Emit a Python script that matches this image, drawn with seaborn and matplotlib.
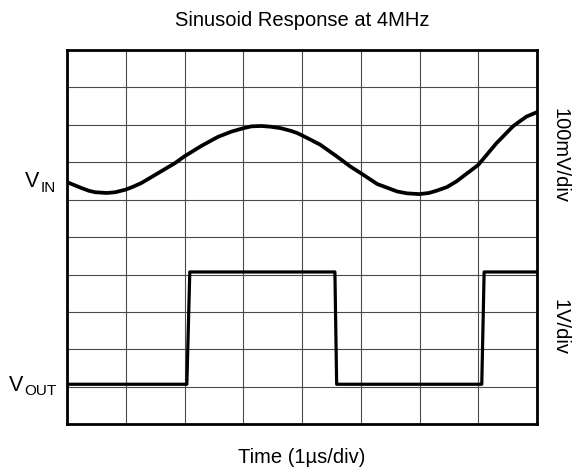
import matplotlib
matplotlib.use("Agg")
import matplotlib.pyplot as plt
import seaborn as sns
import pandas as pd

# sine input (x in divisions, y in divisions from bottom)
vin_t = [0.0, 0.25, 0.37, 0.48, 0.68, 0.82, 1.0, 1.13, 1.27, 1.55, 1.84, 2.0,
         2.29, 2.57, 2.80, 3.0, 3.14, 3.31, 3.47, 3.64, 3.81, 3.92, 4.0, 4.15,
         4.31, 4.59, 4.82, 5.0, 5.28, 5.62, 5.79, 6.0, 6.16, 6.29, 6.47, 6.63,
         7.0, 7.31, 7.59, 7.72, 7.82, 8.0]
vin_v = [6.47, 6.31, 6.24, 6.20, 6.18, 6.20, 6.27, 6.35, 6.45, 6.71, 6.98, 7.16,
         7.44, 7.68, 7.82, 7.91, 7.96, 7.97, 7.95, 7.91, 7.84, 7.78, 7.72, 7.60,
         7.47, 7.16, 6.89, 6.71, 6.42, 6.22, 6.17, 6.15, 6.18, 6.24, 6.34, 6.49,
         6.93, 7.51, 7.96, 8.11, 8.22, 8.34]

# square output
vout_t = [0.0, 2.04, 2.09, 4.56, 4.59, 7.06, 7.10, 8.0]
vout_v = [1.07, 1.07, 4.07, 4.07, 1.07, 1.07, 4.07, 4.07]

title = "Sinusoid Response at 4MHz"
xlabel = "Time (1\u00b5s/div)"

sns.set_theme(style="white")
plt.rcParams["font.family"] = ["Liberation Sans", "DejaVu Sans"]
plt.rcParams["text.color"] = "black"

W, H = 573, 474
fig = plt.figure(figsize=(W / 100, H / 100), dpi=100)
ax = fig.add_axes([67 / W, 1 - 424.3 / H, 470 / W, 374.3 / H])

df_in = pd.DataFrame({"t": vin_t, "v": vin_v})
df_out = pd.DataFrame({"t": vout_t, "v": vout_v})
sns.lineplot(data=df_in, x="t", y="v", ax=ax, color="black", lw=2.7,
             estimator=None, sort=False, zorder=3, solid_joinstyle="round")
sns.lineplot(data=df_out, x="t", y="v", ax=ax, color="black", lw=2.3,
             estimator=None, sort=False, zorder=3)

ax.set_xlim(0, 8)
ax.set_ylim(0, 10)
ax.set_xticks(range(9))
ax.set_yticks(range(11))
ax.set_xticklabels([])
ax.set_yticklabels([])
ax.tick_params(length=0)
ax.grid(True, color="#4a4a4a", lw=0.8)
ax.set_xlabel("")
ax.set_ylabel("")
for s in ax.spines.values():
    s.set_visible(True)
    s.set_color("black")
    s.set_linewidth(2)


def px(x, y):
    return x / W, 1 - y / H


fig.text(*px(302, 26), title, ha="center", va="baseline", fontsize=14.5)
fig.text(*px(302, 463), xlabel, ha="center", va="baseline", fontsize=14.5)
fig.text(*px(560, 156), "100mV/div", ha="center", va="center",
         rotation=270, fontsize=14.5)
fig.text(*px(560, 327), "1V/div", ha="center", va="center",
         rotation=270, fontsize=14.5)

fig.text(*px(25, 186.7), "V", ha="left", va="baseline", fontsize=15.5)
fig.text(*px(40.5, 191.7), "IN", ha="left", va="baseline", fontsize=11)
fig.text(*px(9, 390.7), "V", ha="left", va="baseline", fontsize=15.5)
fig.text(*px(24.5, 395), "OUT", ha="left", va="baseline", fontsize=11)

fig.savefig("out.png", dpi=100, facecolor="white")
